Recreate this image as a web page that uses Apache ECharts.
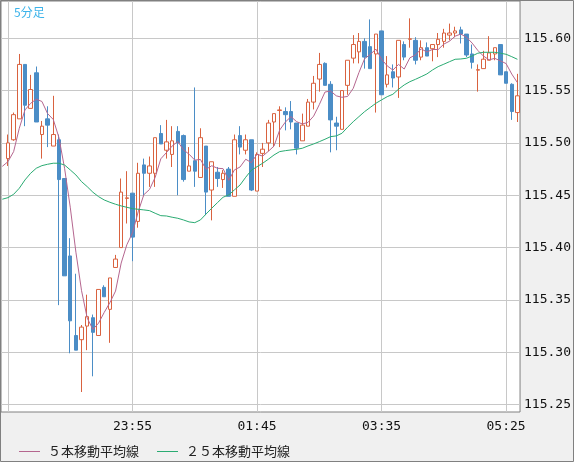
<!DOCTYPE html>
<html><head><meta charset="utf-8">
<script src="https://cdn.jsdelivr.net/npm/echarts@6/dist/echarts.min.js"></script>
<style>html,body{margin:0;padding:0;background:#f0f0f0}#c{width:574px;height:462px}</style>
</head><body><div id="c"></div>
<script>
// 5-minute candles, index 0 = 22:05 ... index 90 = 05:35
const openP = [
115.485,115.503,115.523,115.575,115.533,115.567,115.508,115.523,115.497,115.503,
115.466,115.392,115.316,115.312,115.325,115.333,115.316,115.362,115.341,115.381,
115.400,115.447,115.452,115.425,115.479,115.471,115.471,115.509,115.493,115.489,
115.511,115.507,115.473,115.483,115.467,115.497,115.455,115.472,115.465,115.475,
115.449,115.507,115.493,115.503,115.454,115.490,115.500,115.520,115.531,115.530,
115.530,115.519,115.502,115.516,115.539,115.561,115.576,115.556,115.519,115.513,
115.555,115.581,115.587,115.597,115.592,115.585,115.607,115.556,115.568,115.563,
115.594,115.599,115.598,115.582,115.591,115.590,115.594,115.597,115.603,115.605,
115.608,115.604,115.585,115.5695,115.571,115.579,115.585,115.594,115.568,115.556,
115.529];
const closeP = [
115.500,115.527,115.575,115.536,115.551,115.520,115.516,115.517,115.508,115.465,
115.373,115.330,115.302,115.324,115.334,115.319,115.360,115.353,115.371,115.389,
115.453,115.4475,115.410,115.471,115.471,115.478,115.505,115.499,115.501,115.502,
115.500,115.465,115.478,115.473,115.505,115.453,115.482,115.466,115.471,115.449,
115.503,115.496,115.503,115.455,115.489,115.494,115.519,115.528,115.5315,115.527,
115.520,115.495,115.517,115.539,115.557,115.575,115.555,115.522,115.516,115.550,
115.579,115.594,115.597,115.582,115.571,115.604,115.546,115.565,115.562,115.598,
115.582,115.5995,115.579,115.591,115.583,115.594,115.599,115.605,115.605,115.607,
115.604,115.584,115.577,115.570,115.580,115.586,115.591,115.565,115.557,115.530,
115.545];
const lowP = [
115.478,115.502,115.523,115.516,115.533,115.520,115.485,115.496,115.497,115.345,
115.373,115.299,115.302,115.262,115.302,115.277,115.316,115.353,115.309,115.381,
115.400,115.423,115.387,115.419,115.449,115.458,115.458,115.499,115.485,115.477,
115.450,115.463,115.473,115.458,115.467,115.431,115.426,115.458,115.457,115.449,
115.449,115.489,115.489,115.454,115.454,115.477,115.492,115.496,115.496,115.512,
115.513,115.489,115.502,115.516,115.532,115.549,115.555,115.491,115.493,115.513,
115.546,115.576,115.576,115.571,115.571,115.529,115.546,115.553,115.553,115.543,
115.579,115.591,115.575,115.579,115.583,115.578,115.582,115.591,115.598,115.601,
115.595,115.582,115.571,115.549,115.571,115.579,115.579,115.565,115.557,115.522,
115.520];
const highP = [
115.508,115.529,115.585,115.575,115.565,115.573,115.521,115.535,115.545,115.508,
115.466,115.409,115.375,115.326,115.355,115.336,115.360,115.364,115.371,115.393,
115.466,115.473,115.452,115.481,115.485,115.487,115.505,115.517,115.522,115.516,
115.516,115.508,115.496,115.553,115.514,115.497,115.482,115.477,115.474,115.477,
115.508,115.516,115.508,115.503,115.491,115.500,115.522,115.528,115.535,115.534,
115.540,115.519,115.528,115.542,115.564,115.586,115.577,115.559,115.525,115.550,
115.579,115.603,115.605,115.600,115.618,115.604,115.607,115.583,115.575,115.598,
115.597,115.619,115.601,115.598,115.596,115.594,115.605,115.609,115.614,115.611,
115.611,115.604,115.594,115.575,115.588,115.602,115.591,115.594,115.568,115.557,
115.566];
// 5-period MA values read before enough visible closes exist (index -1..3)
const ma5Lead = [115.4776,115.4821,115.4917,115.5140,115.5315];
// 25-period MA, index -1..90
const ma25 = [
115.4462,
115.4477,115.4509,115.4567,115.4646,115.4710,115.4758,115.4783,115.4796,115.4806,115.4806,
115.4789,115.4742,115.4694,115.4630,115.4582,115.4529,115.4487,115.4455,115.4433,115.4414,
115.4398,115.4385,115.4372,115.4366,115.4360,115.4353,115.4328,115.4305,115.4302,115.4290,
115.4280,115.4264,115.4245,115.4238,115.4264,115.4321,115.4376,115.4429,115.4481,115.4503,
115.4551,115.4598,115.4672,115.4739,115.4773,115.4806,115.4844,115.4885,115.4917,115.4926,
115.4933,115.4939,115.4949,115.4971,115.4990,115.5012,115.5035,115.5060,115.5067,115.5092,
115.5150,115.5203,115.5251,115.5299,115.5339,115.5379,115.5411,115.5442,115.5465,115.5513,
115.5554,115.5585,115.5608,115.5633,115.5659,115.5697,115.5729,115.5752,115.5776,115.5799,
115.5802,115.5809,115.5831,115.5857,115.5866,115.5866,115.5866,115.5857,115.5847,115.5824,
115.5799];
const tickIndex = [0,22,44,66,88];
const tickLabels = ['22:05','23:55','01:45','03:35','05:25'];
const priceTicks = [115.25,115.30,115.35,115.40,115.45,115.50,115.55,115.60];
const seriesNames = ['５本移動平均線','２５本移動平均線'];

const candles = openP.map((o,i)=>[i,o,closeP[i],lowP[i],highP[i]]);
const ma5Data = [];
for (let k=0;k<ma5Lead.length;k++) ma5Data.push([k-1, ma5Lead[k]]);
for (let i=4;i<closeP.length;i++){
  let s=0; for(let j=i-4;j<=i;j++) s+=closeP[j];
  ma5Data.push([i, s/5]);
}
const ma25Data = ma25.map((v,k)=>[k-1,v]);

const chart = echarts.init(document.getElementById('c'), null, {renderer:'canvas'});
const mono = 'DejaVu Sans Mono';
chart.setOption({
  animation:false,
  backgroundColor:'#f0f0f0',
  title:{text:'5分足', left:14, top:6, padding:0, textStyle:{color:'#3cb3ea', fontSize:12, fontWeight:'normal', fontFamily:'Noto Sans CJK JP'}},
  legend:{
    data:seriesNames, left:14, top:440, icon:'rect', itemWidth:21, itemHeight:1, itemGap:18,
    textStyle:{fontFamily:'Noto Sans CJK JP', fontSize:13, color:'#222', padding:[0,0,0,3]}
  },
  grid:{left:1, top:1, width:521, height:411, show:true, backgroundColor:'#ffffff', borderColor:'#808080', borderWidth:1},
  xAxis:{
    type:'value', min:-1.232, max:90.464,
    axisLine:{show:false},
    axisTick:{show:false, customValues:tickIndex},
    splitLine:{show:true, lineStyle:{color:'#c8c8c8', width:1}},
    axisLabel:{customValues:tickIndex.slice(1), margin:8, fontFamily:mono, fontSize:13, color:'#111',
      formatter:(v)=>{const k=tickIndex.indexOf(Math.round(v)); return k>=0?tickLabels[k]:'';}}
  },
  yAxis:{
    type:'value', position:'right', min:115.2429, max:115.6356, scale:true,
    axisLine:{show:false},
    axisTick:{show:false, customValues:priceTicks},
    splitLine:{show:true, lineStyle:{color:'#c8c8c8', width:1}},
    axisLabel:{customValues:priceTicks, margin:4, fontFamily:mono, fontSize:13, color:'#111',
      formatter:(v)=>v.toFixed(2)}
  },
  graphic:[{type:'rect', silent:true, z:100, shape:{x:0.5,y:0.5,width:573,height:461}, style:{fill:'none', stroke:'#808080', lineWidth:1}}],
  series:[
    {type:'candlestick', data:candles, barWidth:4, clip:true,
     dimensions:['t','open','close','lowest','highest'],
     encode:{x:0, y:[1,2,3,4]},
     itemStyle:{color:'#ffffff', color0:'#4b8dc6', borderColor:'#d9623f', borderColor0:'#4b8dc6', borderWidth:1}},
    {type:'line', name:seriesNames[0], data:ma5Data, showSymbol:false, symbol:'none', clip:true, z:3,
     lineStyle:{color:'#b5668f', width:1}, itemStyle:{color:'#b5668f'}},
    {type:'line', name:seriesNames[1], data:ma25Data, showSymbol:false, symbol:'none', clip:true, z:3,
     lineStyle:{color:'#2aab72', width:1}, itemStyle:{color:'#2aab72'}}
  ]
});
</script></body></html>
